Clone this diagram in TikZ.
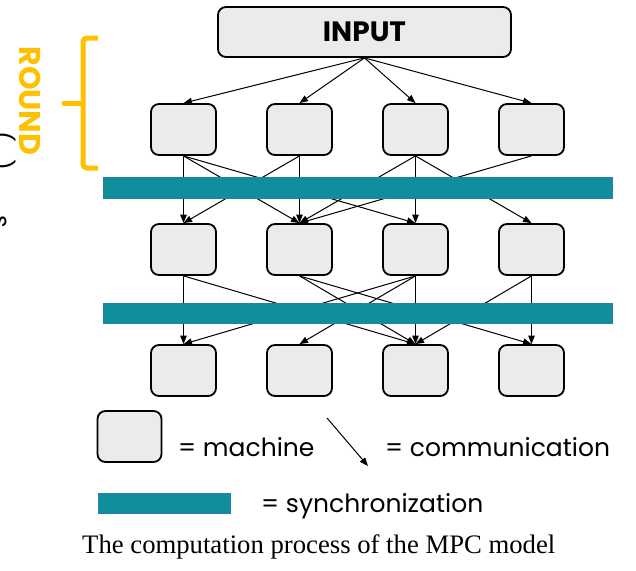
\documentclass[tikz,border=0pt]{standalone}
\usepackage{fontspec}
\setmainfont{Liberation Serif}
\newfontfamily\gothic{Poppins}
\usetikzlibrary{arrows.meta}
\definecolor{boxfill}{RGB}{235,235,235}
\definecolor{syncfill}{RGB}{16,142,156}
\definecolor{syncdraw}{RGB}{40,125,170}
\definecolor{gold}{RGB}{255,192,0}
\begin{document}
\begin{tikzpicture}[x=1pt,y=-1pt,
  machine/.style={draw=black,line width=1.8pt,fill=boxfill,rounded corners=8pt,minimum width=65pt,minimum height=51pt,inner sep=0pt},
  comm/.style={line width=1pt,-{Triangle[length=8.5pt,width=6.5pt]}},
  syncbar/.style={fill=syncfill,draw=syncdraw,line width=0.8pt,inner sep=0pt},
  legtext/.style={anchor=base west,inner sep=0pt,font=\gothic\fontsize{25}{28}\selectfont}]
\useasboundingbox (0,0) rectangle (636,570);
% input
\node[machine,minimum width=293pt,minimum height=50pt,font=\gothic\bfseries\fontsize{28}{30}\selectfont] (in) at (364.5,32) {INPUT};
% machines
\foreach \c/\x in {1/183.5,2/299.5,3/415.5,4/531.5}{
  \node[machine] (a\c) at (\x,129.5) {};
  \node[machine] (b\c) at (\x,249.5) {};
  \node[machine] (c\c) at (\x,370.5) {};
}
% input arrows
\foreach \c in {1,2,3,4}{\draw[comm] (in.south) -- (a\c.north);}
% round 1 communication
\foreach \s/\t in {1/1,1/2,1/3,2/1,2/2,3/2,3/3,3/4,4/2}{\draw[comm] (a\s.south) -- (b\t.north);}
% round 2 communication
\foreach \s/\t in {1/1,1/3,2/3,2/4,3/1,3/2,3/3,4/3,4/4}{\draw[comm] (b\s.south) -- (c\t.north);}
% synchronization bars
\node[syncbar,minimum width=509pt,minimum height=21pt] (s1) at (357.5,187.5) {};
\node[syncbar,minimum width=509pt,minimum height=20pt] (s2) at (357.5,313) {};
% round bracket
\draw[gold,line width=5pt,rounded corners=4pt] (98,38) -- (83,38) -- (83,168) -- (98,168);
\draw[gold,line width=5pt,line cap=round] (64,103) -- (83,103);
\node[rotate=-90,text=gold,inner sep=0pt,font=\gothic\bfseries\fontsize{30}{30}\selectfont] (round) at (30,101) {ROUND};
% clipped fragment
\node[rotate=-90,anchor=base west,inner sep=0pt,font=\gothic\fontsize{24}{24}\selectfont] (frag) at (-6,131) {(\hspace{17pt})\hspace{46pt}s};
% legend
\node[machine,minimum width=64pt,minimum height=51pt] (lm) at (129.5,436.5) {};
\node[legtext] (lmt) at (178,456) {= machine};
\coordinate (ca) at (327,418);
\coordinate (cb) at (368,466);
\draw[comm] (ca) -- (cb);
\node[legtext] (lct) at (385,456) {= communication};
\node[syncbar,minimum width=132pt,minimum height=20pt] (ls) at (164,503) {};
\node[legtext] (lst) at (261,512) {= synchronization};
% caption
\node[anchor=base west,inner sep=0pt,font=\fontsize{26.7}{32}\selectfont] (cap) at (82,553) {The computation process of the MPC model};
\end{tikzpicture}
\end{document}
